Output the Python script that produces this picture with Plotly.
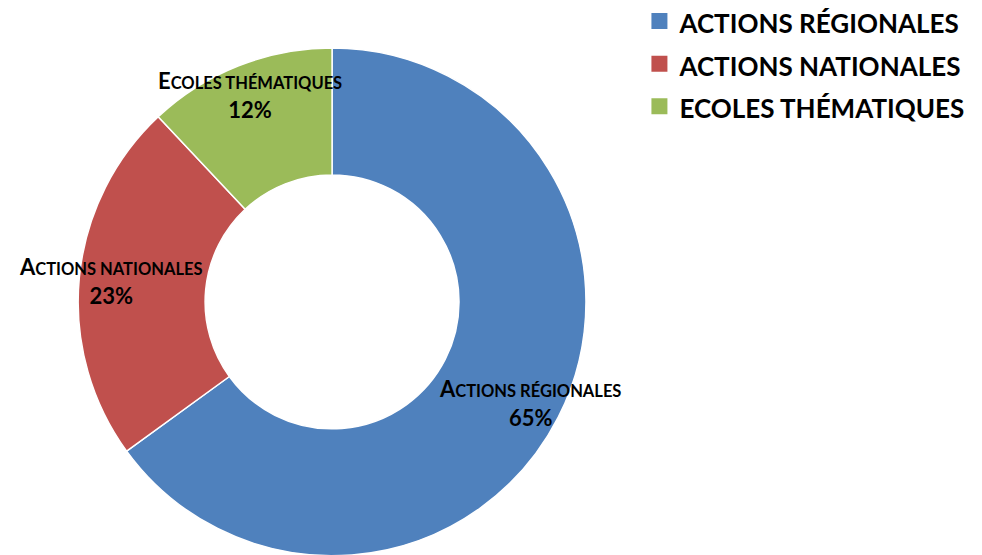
import math
import plotly.graph_objects as go

categories = ["ACTIONS RÉGIONALES", "ACTIONS NATIONALES", "ECOLES THÉMATIQUES"]
values = [65, 23, 12]
colors = ["#4F81BD", "#C0504D", "#9BBB59"]

W, H = 982, 555
dom_x = [0.071, 0.589]
dom_y = [0.013, 0.928]


def small_caps(name, pct):
    return (name[0] + "<span style='font-size:16.5px'>" + name[1:] + "</span>"
            + "<br>" + f"{pct}%")


fig = go.Figure(
    go.Pie(
        labels=categories,
        values=values,
        textinfo="none",
        hole=0.5,
        sort=False,
        direction="clockwise",
        rotation=0,
        marker=dict(colors=colors, line=dict(color="white", width=1.5)),
        domain=dict(x=dom_x, y=dom_y),
        hoverinfo="label+percent",
        showlegend=False,
    )
)

# legend entries (square swatches)
for c, col in zip(categories, colors):
    fig.add_trace(
        go.Scatter(
            x=[None], y=[None], mode="markers",
            name="<span style='font-size:26px'>" + c + "</span>",
            marker=dict(symbol="square", size=16, color=col),
            showlegend=True,
        )
    )

# label placement derived from the slice angles
cx = (dom_x[0] + dom_x[1]) / 2 * W
cy = (1 - (dom_y[0] + dom_y[1]) / 2) * H
R = min((dom_x[1] - dom_x[0]) * W, (dom_y[1] - dom_y[0]) * H) / 2
total = sum(values)
cum = 0
for c, v in zip(categories, values):
    mid = (cum + v / 2) / total * 2 * math.pi
    cum += v
    r = 0.875 * R
    px = cx + r * math.sin(mid)
    py = cy - r * math.cos(mid)
    fig.add_annotation(
        x=px / W, y=1 - py / H, xref="paper", yref="paper",
        text=small_caps(c, v), showarrow=False,
        font=dict(family="Lato", size=22, color="black", weight="bold"),
        align="center", xanchor="center", yanchor="middle",
    )

fig.update_layout(
    width=W,
    height=H,
    margin=dict(l=0, r=0, t=0, b=0, autoexpand=False),
    paper_bgcolor="white",
    plot_bgcolor="white",
    xaxis=dict(visible=False),
    yaxis=dict(visible=False),
    legend=dict(
        x=0.643,
        y=1.024,
        xanchor="left",
        yanchor="top",
        font=dict(family="Lato", size=30.5, color="black", weight="bold"),
        itemsizing="trace",
        itemwidth=30,
        tracegroupgap=0,
        bgcolor="rgba(0,0,0,0)",
    ),
)

fig.write_html("out.html")
